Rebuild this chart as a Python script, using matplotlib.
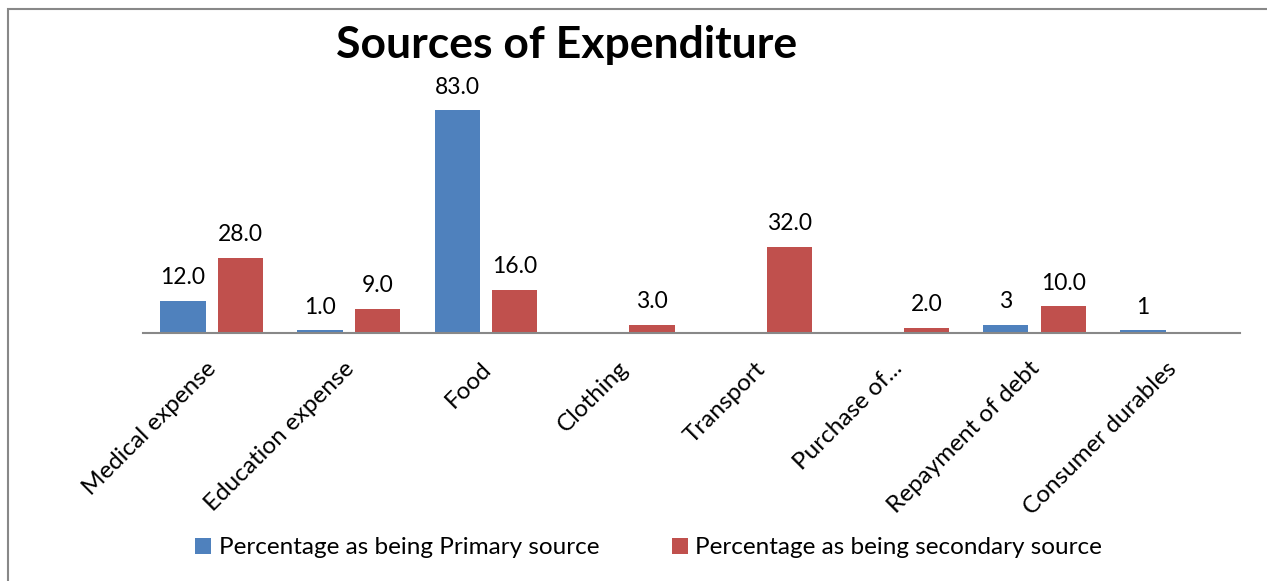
import matplotlib.pyplot as plt
import matplotlib.transforms as mtransforms
import numpy as np
from matplotlib.patches import Rectangle

categories = ['Medical expense', 'Education expense', 'Food', 'Clothing',
              'Transport', 'Purchase of...', 'Repayment of debt', 'Consumer durables']
primary = [12, 1, 83, 0, 0, 0, 3, 1]
secondary = [28, 9, 16, 3, 32, 2, 10, 0]
primary_labels = ['12.0', '1.0', '83.0', '', '', '', '3', '1']
secondary_labels = ['28.0', '9.0', '16.0', '3.0', '32.0', '2.0', '10.0', '']
series_names = ['Percentage as being Primary source', 'Percentage as being secondary source']

plt.rcParams['font.family'] = ['Lato', 'DejaVu Sans']

fig = plt.figure(figsize=(12.67, 5.81), dpi=100)
ax = fig.add_axes([0.113, 0.427, 0.866, 0.416])

x = np.arange(len(categories))
w = 0.33
b1 = ax.bar(x - 0.21, primary, w, color='#4F81BD', label=series_names[0])
b2 = ax.bar(x + 0.21, secondary, w, color='#C0504D', label=series_names[1])

for bars, labels in ((b1, primary_labels), (b2, secondary_labels)):
    for bar, lab in zip(bars, labels):
        if lab:
            ax.annotate(lab, (bar.get_x() + bar.get_width() / 2, bar.get_height()),
                        xytext=(0, 9), textcoords='offset points',
                        ha='center', va='bottom', fontsize=16.5)

ax.set_xlim(-0.5, len(categories) - 0.5)
ax.set_ylim(0, 90)
ax.set_yticks([])
for s in ('top', 'right', 'left'):
    ax.spines[s].set_visible(False)
ax.spines['bottom'].set_color('#888888')
ax.spines['bottom'].set_linewidth(1.5)
ax.set_xticks(x)
ax.set_xticklabels(categories, rotation=45, ha='right', rotation_mode='anchor', fontsize=17.5)
ax.tick_params(axis='x', length=0, pad=18)
shift = mtransforms.ScaledTranslation(-6 / 100, 0, fig.dpi_scale_trans)
for lbl in ax.get_xticklabels():
    lbl.set_transform(lbl.get_transform() + shift)

fig.text(0.4475, 0.922, 'Sources of Expenditure', ha='center', va='center',
         fontsize=32, fontweight='bold')

fig.legend(handles=[b1, b2], loc='center', bbox_to_anchor=(0.512, 0.057), ncol=2,
           frameon=False, fontsize=17.5, handlelength=0.65, handleheight=0.65,
           handletextpad=0.3, columnspacing=3.0)

fig.patches.append(Rectangle((8 / 1267, -0.1), 1.2, 1.1 - 9 / 581, transform=fig.transFigure,
                             fill=False, edgecolor='#888888', linewidth=1.5))

fig.savefig('out.png', dpi=100)
